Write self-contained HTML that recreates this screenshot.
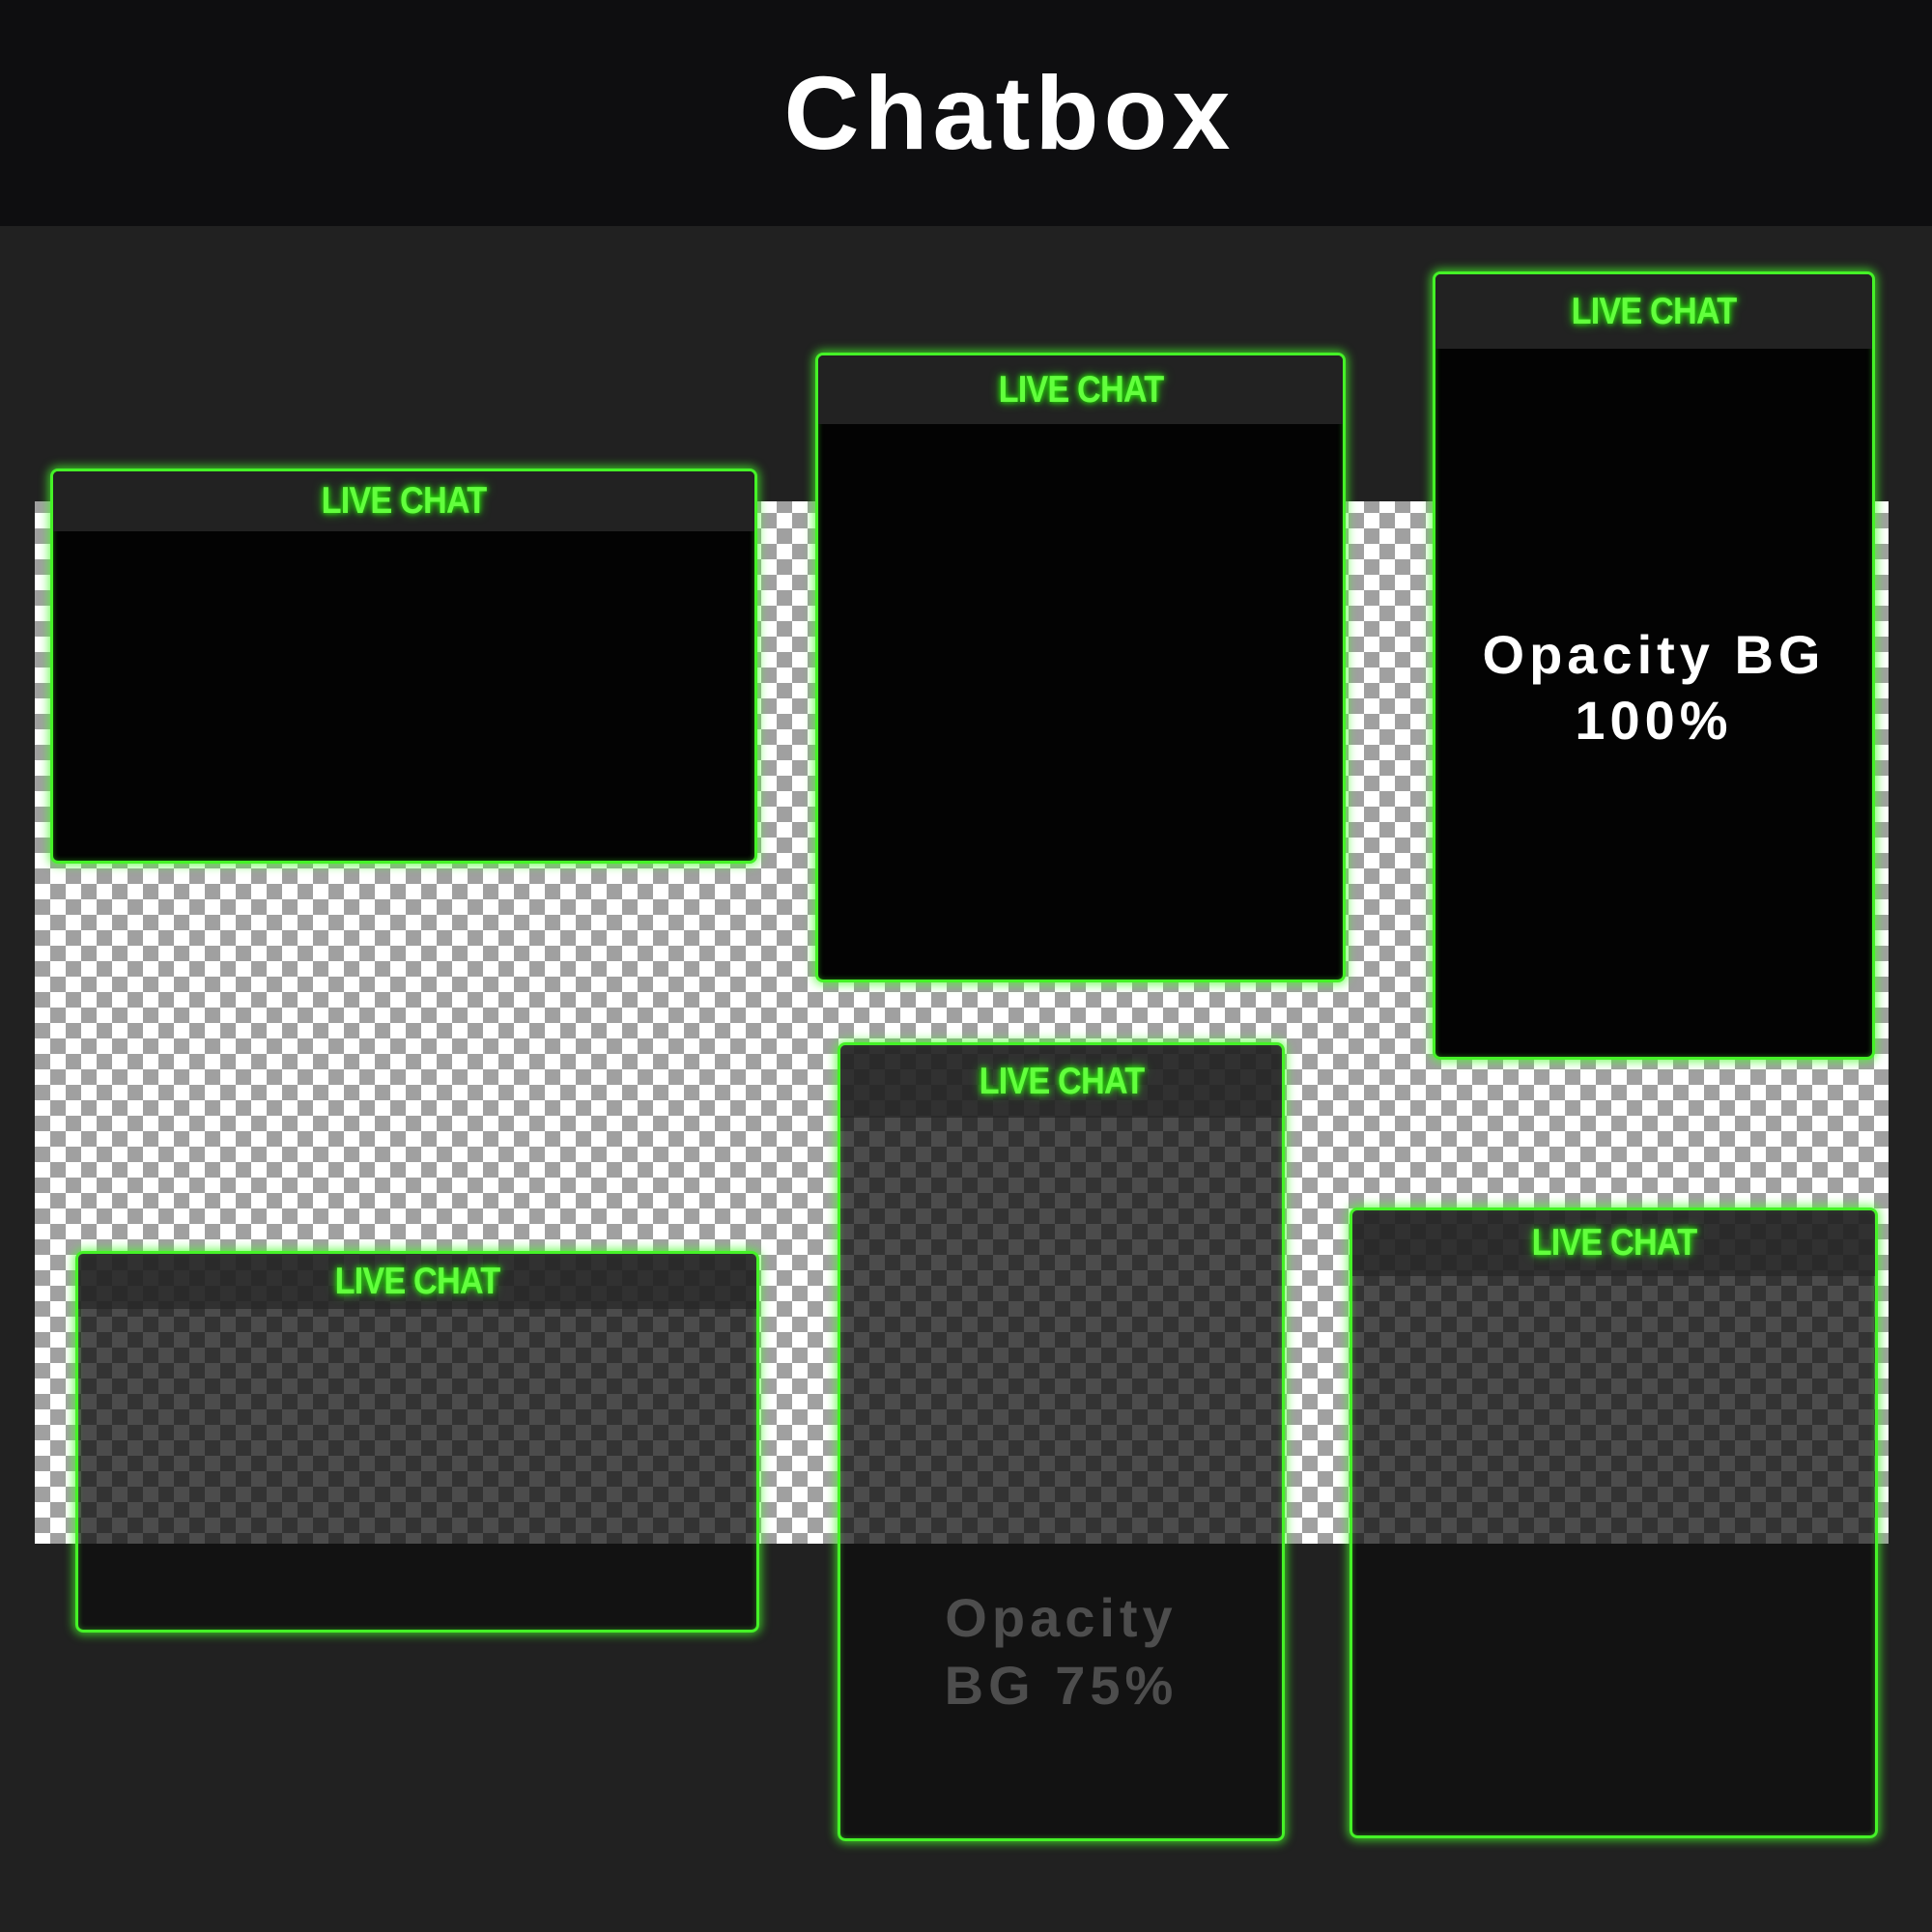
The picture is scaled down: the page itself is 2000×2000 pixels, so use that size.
<!DOCTYPE html>
<html><head><meta charset="utf-8"><style>
*{margin:0;padding:0;box-sizing:border-box}
body{width:2000px;height:2000px;background:#212121;position:relative;overflow:hidden;font-family:"Liberation Sans",sans-serif}
.top{position:absolute;left:0;top:0;width:2000px;height:234px;background:#0e0e10}
.title{position:absolute;left:0;top:0;width:2000px;height:234px;line-height:234px;text-align:center;color:#fff;font-weight:bold;font-size:108px;letter-spacing:5px;padding-left:90px}
.check{position:absolute;left:36px;top:519px;width:1919px;height:1079px;background-color:#fff;
background-image:conic-gradient(#a0a0a0 0 25%,#fff 0 50%,#a0a0a0 0 75%,#fff 0);background-size:32px 32px;background-position:-16px -4px}
.box{position:absolute;border:3px solid #45f227;border-radius:8px;box-shadow:0 0 10px 2px rgba(70,255,40,.75),inset 0 0 6px rgba(70,255,40,.4);background:#030303;overflow:hidden}
.box.t{background:rgba(14,14,14,.74)}
.hd{background:#222;color:#62ff3d;font-weight:bold;font-size:39px;text-align:center;letter-spacing:-1px;text-shadow:0 0 6px #2f0,0 0 12px rgba(50,255,0,.7)}
.hd span{display:inline-block;transform:scaleX(.88)}
.t .hd{background:rgba(40,40,40,.75)}
.lbl{position:absolute;left:0;width:100%;text-align:center;font-weight:bold;letter-spacing:5px}
</style></head><body>
<div class="top"></div><div class="title">Chatbox</div>
<div class="check"></div>

<div class="box" style="left:52px;top:485px;width:732px;height:409px"><div class="hd" style="height:62px;line-height:62px"><span>LIVE CHAT</span></div></div>
<div class="box" style="left:844px;top:365px;width:549px;height:652px"><div class="hd" style="height:71px;line-height:71px"><span>LIVE CHAT</span></div></div>
<div class="box" style="left:1483px;top:281px;width:458px;height:816px"><div class="hd" style="height:77px;line-height:77px"><span>LIVE CHAT</span></div>
<div class="lbl" style="top:360px;color:#fff;font-size:56px;line-height:68px">Opacity BG<br>100%</div></div>

<div class="box t" style="left:78px;top:1295px;width:708px;height:395px"><div class="hd" style="height:57px;line-height:57px"><span>LIVE CHAT</span></div></div>
<div class="box t" style="left:867px;top:1079px;width:463px;height:827px"><div class="hd" style="height:75px;line-height:75px"><span>LIVE CHAT</span></div>
<div class="lbl" style="top:558px;color:#4d4d4d;font-size:56px;line-height:70px">Opacity<br>BG 75%</div></div>
<div class="box t" style="left:1397px;top:1250px;width:547px;height:653px"><div class="hd" style="height:68px;line-height:68px"><span>LIVE CHAT</span></div></div>
</body></html>
